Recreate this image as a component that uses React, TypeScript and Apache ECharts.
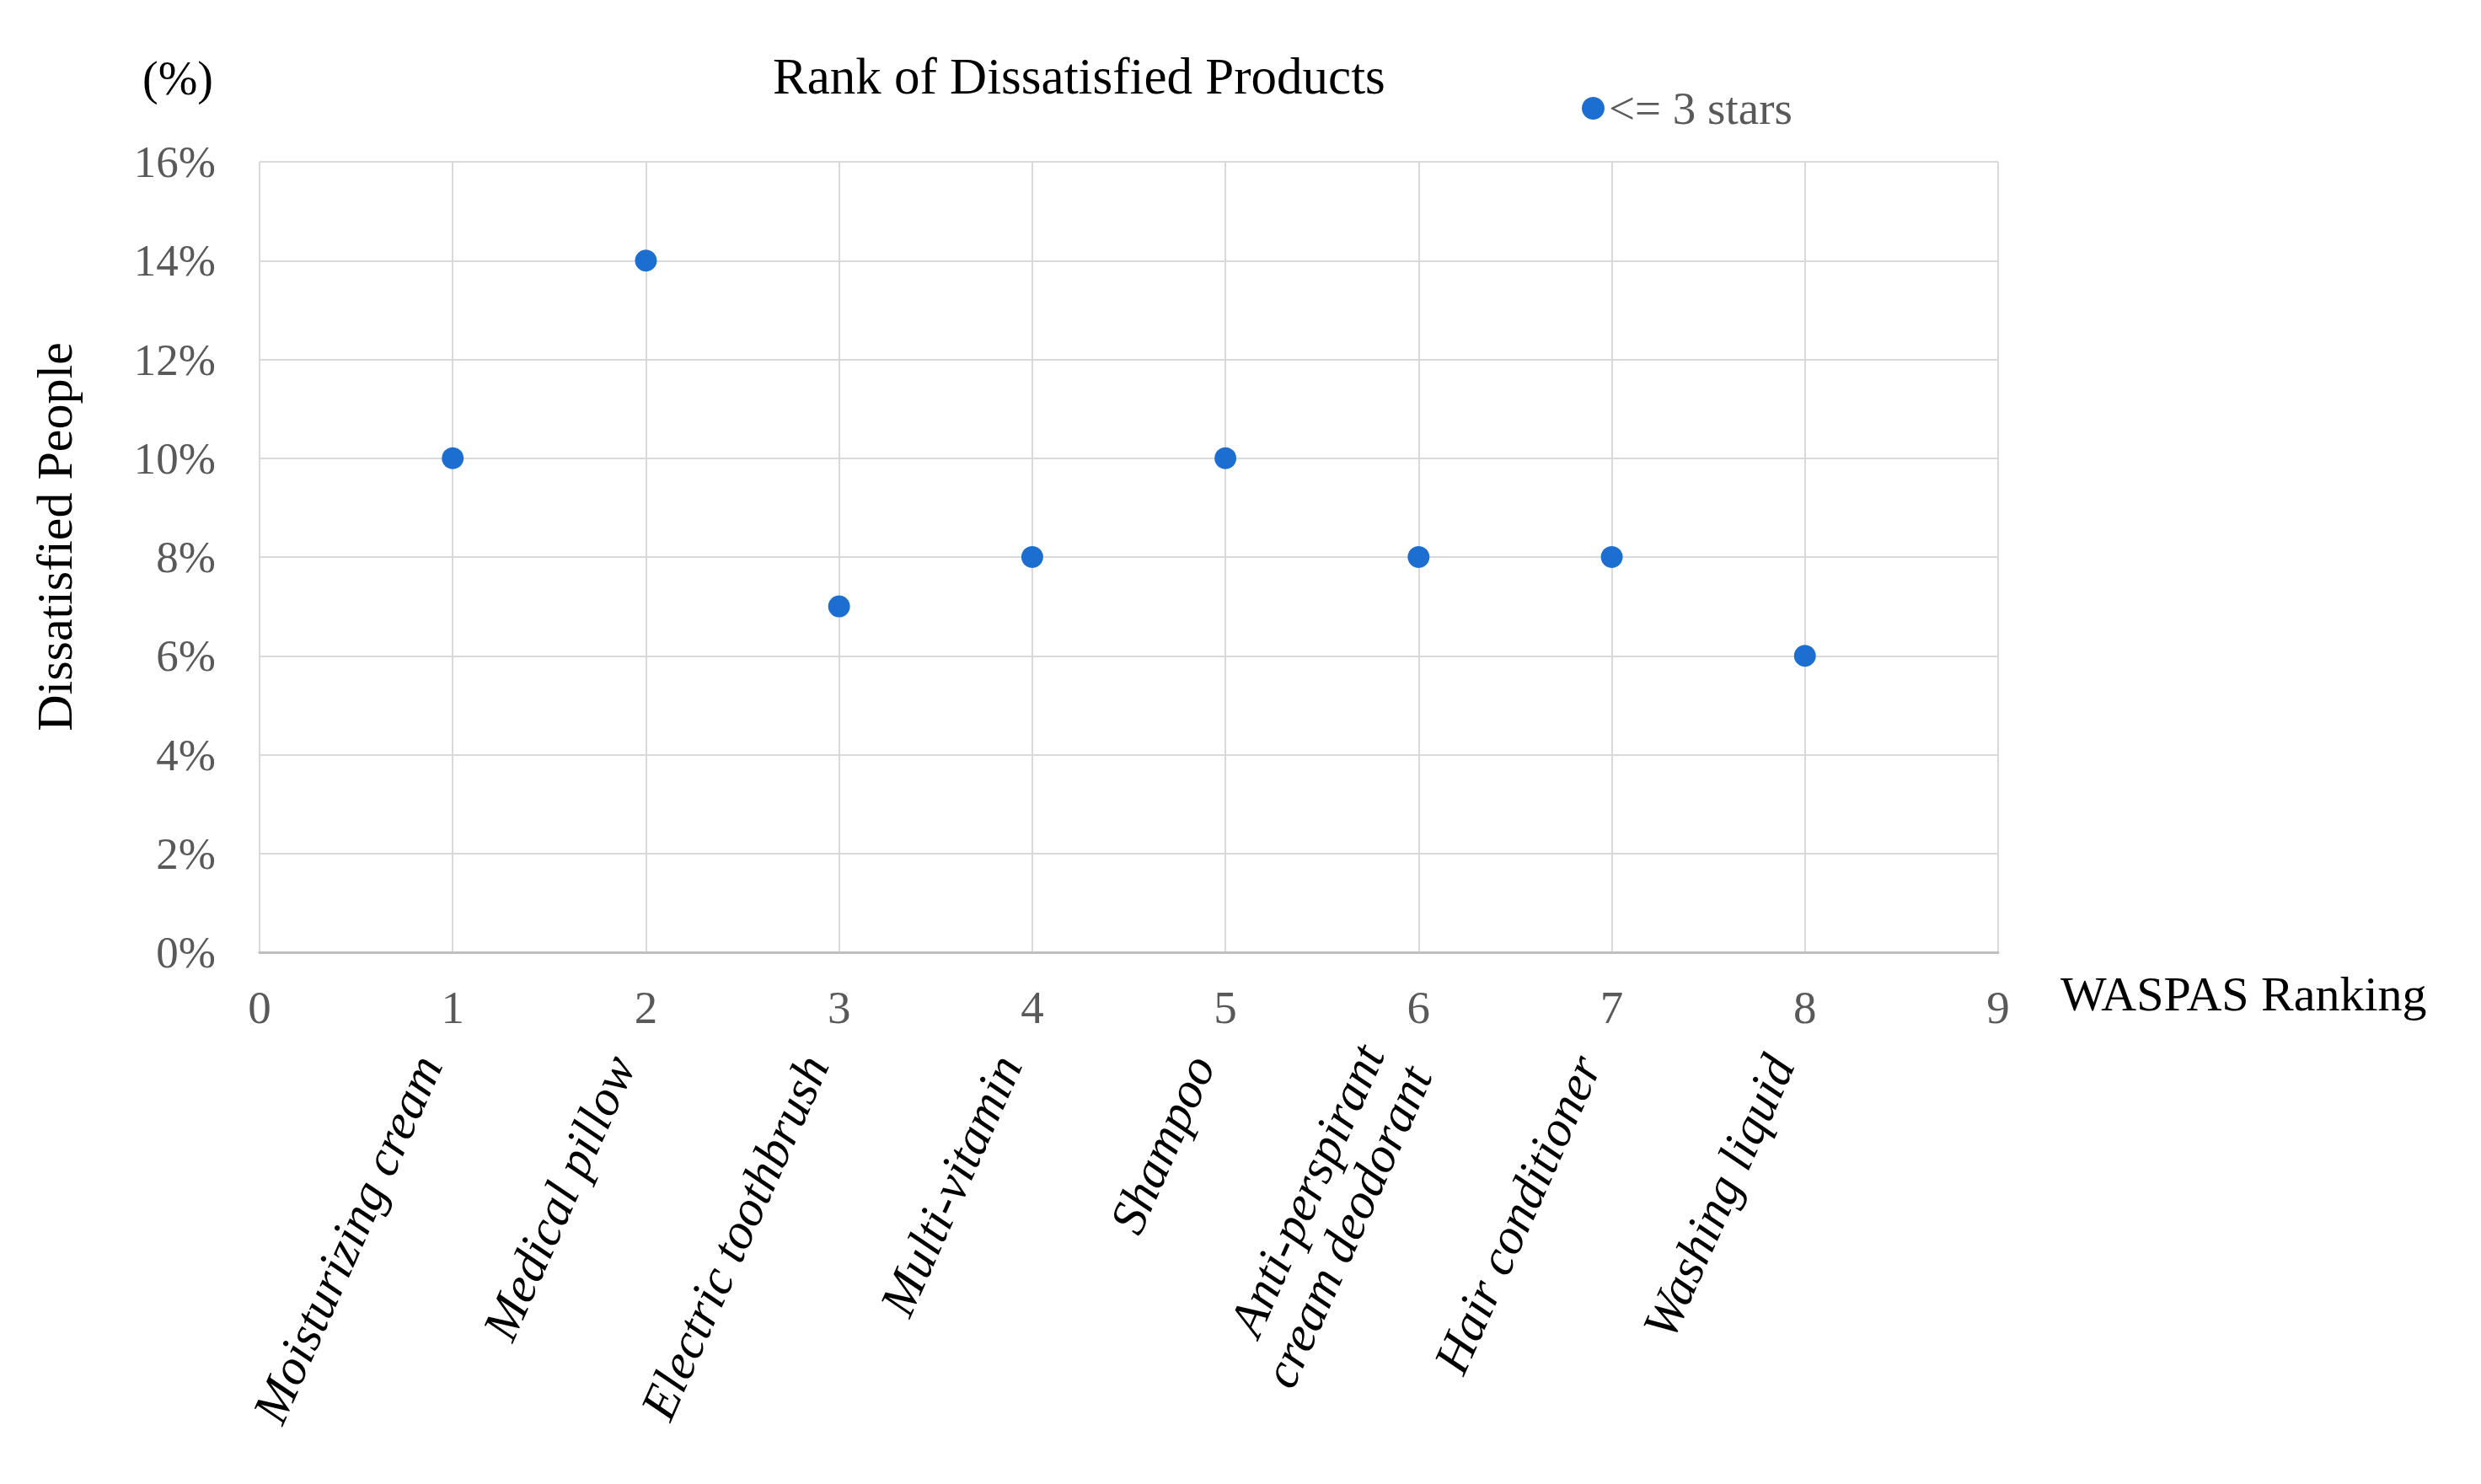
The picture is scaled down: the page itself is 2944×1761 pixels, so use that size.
import React, { useEffect, useRef } from "react";
import * as echarts from "echarts";

const ranks = [1, 2, 3, 4, 5, 6, 7, 8];
const products = [
  "Moisturizing cream",
  "Medical pillow",
  "Electric toothbrush",
  "Multi-vitamin",
  "Shampoo",
  "Anti-perspirant\ncream deodorant",
  "Hair conditioner",
  "Washing liquid",
];
const dissatisfiedPct = [10, 14, 7, 8, 10, 8, 8, 6];
const seriesName = "<= 3 stars";

export default function App() {
  const ref = useRef<HTMLDivElement>(null);
  useEffect(() => {
    if (!ref.current) return;
    const chart = echarts.init(ref.current, undefined, { renderer: "svg" });
    const serif = "Liberation Serif";
    const gray = "#595959";
    chart.setOption({
      animation: false,
      backgroundColor: "#ffffff",
      textStyle: { fontFamily: serif },
      title: [
        {
          text: "Rank of Dissatisfied Products",
          left: 912,
          top: 55,
          textStyle: { fontFamily: serif, fontSize: 61, fontWeight: "normal", color: "#000" },
        },
      ],
      graphic: [
        {
          type: "text",
          x: 211,
          y: 93,
          style: {
            text: "(%)",
            fontFamily: serif,
            fontSize: 56,
            fill: "#000",
            align: "center",
            verticalAlign: "middle",
          },
        },
        {
          type: "text",
          x: 2445,
          y: 1179,
          style: {
            text: "WASPAS Ranking",
            fontFamily: serif,
            fontSize: 58,
            fill: "#000",
            align: "left",
            verticalAlign: "middle",
          },
        },
      ],
      legend: {
        data: [seriesName],
        left: 1872,
        top: 96,
        icon: "circle",
        itemWidth: 27,
        itemHeight: 27,
        textStyle: { fontFamily: serif, fontSize: 55, color: gray },
      },
      grid: { left: 308, top: 192, width: 2063, height: 938, containLabel: false },
      xAxis: [
        {
          type: "value",
          min: 0,
          max: 9,
          interval: 1,
          axisLine: { show: true, lineStyle: { color: "#bfbfbf", width: 3 } },
          axisTick: { show: false },
          axisLabel: { margin: 38, fontFamily: serif, fontSize: 55, color: gray },
          splitLine: { show: true, lineStyle: { color: "#d9d9d9", width: 2 } },
        },
        {
          type: "value",
          min: 0,
          max: 9,
          interval: 1,
          position: "bottom",
          axisLine: { show: false },
          axisTick: { show: false },
          splitLine: { show: false },
          axisLabel: {
            rotate: 66,
            margin: 60,
            fontFamily: serif,
            fontStyle: "italic",
            fontSize: 60,
            color: "#000",
            lineHeight: 62,
            padding: [0, 72, 0, 0],
            formatter: (v: number) => {
              const i = ranks.indexOf(Math.round(v));
              return i >= 0 ? products[i] : "";
            },
          },
        },
      ],
      yAxis: {
        type: "value",
        min: 0,
        max: 16,
        interval: 2,
        name: "Dissatisfied People",
        nameLocation: "middle",
        nameRotate: 90,
        nameGap: 213,
        nameTextStyle: { fontFamily: serif, fontSize: 60, color: "#000", padding: [0, 0, 0, 48] },
        axisLine: { show: false },
        axisTick: { show: false },
        axisLabel: {
          margin: 52,
          fontFamily: serif,
          fontSize: 53,
          color: gray,
          formatter: (v: number) => `${v}%`,
        },
        splitLine: { show: true, lineStyle: { color: "#d9d9d9", width: 2 } },
      },
      series: [
        {
          name: seriesName,
          type: "scatter",
          xAxisIndex: 0,
          symbol: "circle",
          symbolSize: 26,
          itemStyle: { color: "#1c6fd0", opacity: 1 },
          data: ranks.map((r, i) => [r, dissatisfiedPct[i]]),
        },
      ],
    });
    return () => chart.dispose();
  }, []);
  return (
    <div
      ref={ref}
      style={{ position: "fixed", left: 0, top: 0, width: 2944, height: 1761 }}
    />
  );
}
